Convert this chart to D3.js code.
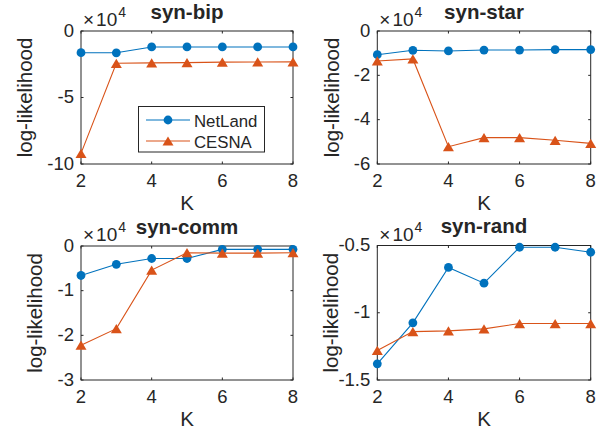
<!DOCTYPE html>
<head>
<meta charset="utf-8">
<style>
body { margin: 0; background: #fff; }
svg { display: block; }
text { font-family: "Liberation Sans", Arial, Helvetica, sans-serif; fill: #262626; }
.title { font-weight: bold; font-size: 20.5px; text-anchor: middle; }
.tick { font-size: 18.5px; }
.lab { font-size: 20.5px; text-anchor: middle; }
.leg { font-size: 16.8px; }
</style>
</head>
<body>
<svg width="605" height="432"></svg>
<script src="https://d3js.org/d3.v7.min.js"></script>
<script>
// values are in units of 10^4
var K = [2, 3, 4, 5, 6, 7, 8];
var xTicks = [2, 4, 6, 8];
var names = ["syn-bip", "syn-star", "syn-comm", "syn-rand"];

var bipNetLand = [-1.63, -1.64, -1.2, -1.2, -1.2, -1.2, -1.2];
var bipCESNA   = [-9.2, -2.43, -2.4, -2.38, -2.34, -2.33, -2.32];
var starNetLand = [-1.07, -0.87, -0.9, -0.86, -0.86, -0.84, -0.84];
var starCESNA   = [-1.35, -1.26, -5.22, -4.81, -4.81, -4.93, -5.07];
var commNetLand = [-0.66, -0.41, -0.28, -0.28, -0.075, -0.075, -0.075];
var commCESNA   = [-2.22, -1.85, -0.54, -0.15, -0.16, -0.16, -0.15];
var randNetLand = [-1.38, -1.075, -0.663, -0.78, -0.513, -0.513, -0.55];
var randCESNA   = [-1.28, -1.14, -1.135, -1.12, -1.08, -1.08, -1.08];

var bipTicks = [0, -5, -10];
var starTicks = [0, -2, -4, -6];
var commTicks = [0, -1, -2, -3];
var randTicks = [-0.5, -1, -1.5];

var seriesNames = ["NetLand", "CESNA"];
var colors = ["#0072BD", "#D95319"];

// panel layout (pixels)
var boxes = [
  {l: 81, r: 293, t: 31, b: 164, ylab: 27.5},
  {l: 377.3, r: 590.7, t: 31, b: 164, ylab: 334.5},
  {l: 81, r: 293, t: 246, b: 380, ylab: 38},
  {l: 377.3, r: 590.7, t: 245.5, b: 380, ylab: 333.5}
];

var panels = [
  {name: names[0], a: bipNetLand, c: bipCESNA, ticks: bipTicks, dom: [-10, 0]},
  {name: names[1], a: starNetLand, c: starCESNA, ticks: starTicks, dom: [-6, 0]},
  {name: names[2], a: commNetLand, c: commCESNA, ticks: commTicks, dom: [-3, 0]},
  {name: names[3], a: randNetLand, c: randCESNA, ticks: randTicks, dom: [-1.5, -0.5]}
];

var svg = d3.select("svg");
var axCol = "#262626", tl = 2.5;

function tri(s) {
  // upward triangle, bbox centred on the point
  var w = s / 2, h = s * 0.42;
  return "M0," + (-h) + "L" + w + "," + h + "L" + (-w) + "," + h + "Z";
}

panels.forEach(function(p, i) {
  var bx = boxes[i];
  var x = d3.scaleLinear().domain([2, 8]).range([bx.l, bx.r]);
  var y = d3.scaleLinear().domain(p.dom).range([bx.b, bx.t]);
  var g = svg.append("g");

  // box
  g.append("rect").attr("x", bx.l).attr("y", bx.t)
    .attr("width", bx.r - bx.l).attr("height", bx.b - bx.t)
    .attr("fill", "none").attr("stroke", axCol).attr("stroke-width", 1);

  // x ticks (inside, top and bottom)
  xTicks.forEach(function(t) {
    var xx = x(t);
    g.append("line").attr("x1", xx).attr("x2", xx).attr("y1", bx.b).attr("y2", bx.b - tl).attr("stroke", axCol);
    g.append("line").attr("x1", xx).attr("x2", xx).attr("y1", bx.t).attr("y2", bx.t + tl).attr("stroke", axCol);
    g.append("text").attr("class", "tick").attr("x", xx).attr("y", bx.b + 23)
      .attr("text-anchor", "middle").text(t);
  });
  // y ticks
  p.ticks.forEach(function(t) {
    var yy = y(t);
    g.append("line").attr("x1", bx.l).attr("x2", bx.l + tl).attr("y1", yy).attr("y2", yy).attr("stroke", axCol);
    g.append("line").attr("x1", bx.r).attr("x2", bx.r - tl).attr("y1", yy).attr("y2", yy).attr("stroke", axCol);
    g.append("text").attr("class", "tick").attr("x", bx.l - 7).attr("y", yy - 1)
      .attr("text-anchor", "end").attr("dominant-baseline", "central").text(String(t));
  });

  // exponent
  var ex = g.append("text").attr("class", "tick").attr("x", bx.l + 2).attr("y", bx.t - 5)
    .style("font-size", "19px");
  ex.append("tspan").text("\u00d7");
  ex.append("tspan").attr("dx", 2).text("10");
  ex.append("tspan").attr("dy", -9).attr("dx", 1).style("font-size", "14px").text("4");

  // title, labels
  g.append("text").attr("class", "title").attr("x", (bx.l + bx.r) / 2).attr("y", bx.t - 12.5).text(p.name);
  g.append("text").attr("class", "lab").attr("x", (bx.l + bx.r) / 2).attr("y", bx.b + 46).text("K");
  g.append("text").attr("class", "lab")
    .attr("transform", "translate(" + (bx.ylab + 4) + "," + ((bx.t + bx.b) / 2) + ") rotate(-90)")
    .text("log-likelihood");

  var line = d3.line().x(function(d, j) { return x(K[j]); }).y(function(d) { return y(d); });
  [p.a, p.c].forEach(function(vals, s) {
    g.append("path").datum(vals).attr("d", line)
      .attr("fill", "none").attr("stroke", colors[s]).attr("stroke-width", 1.1);
    g.selectAll(null).data(vals).enter().append("path")
      .attr("transform", function(d, j) { return "translate(" + x(K[j]) + "," + y(d) + ")"; })
      .attr("d", s === 0 ? d3.symbol(d3.symbolCircle, Math.PI * 4.4 * 4.4)() : tri(11))
      .attr("fill", colors[s]);
  });
});

// legend in first panel
var lg = svg.append("g");
lg.append("rect").attr("x", 138.5).attr("y", 106.5).attr("width", 126).attr("height", 45.5)
  .attr("fill", "#fff").attr("stroke", axCol).attr("stroke-width", 1);
seriesNames.forEach(function(n, s) {
  var yy = 120 + s * 21;
  lg.append("line").attr("x1", 146).attr("x2", 190).attr("y1", yy).attr("y2", yy)
    .attr("stroke", colors[s]).attr("stroke-width", 1.1);
  lg.append("path").attr("transform", "translate(168," + yy + ")")
    .attr("d", s === 0 ? d3.symbol(d3.symbolCircle, Math.PI * 4.4 * 4.4)() : tri(11))
    .attr("fill", colors[s]);
  lg.append("text").attr("class", "leg").attr("x", 194).attr("y", yy + 1)
    .attr("dominant-baseline", "central").text(n);
});
</script>
</body>
